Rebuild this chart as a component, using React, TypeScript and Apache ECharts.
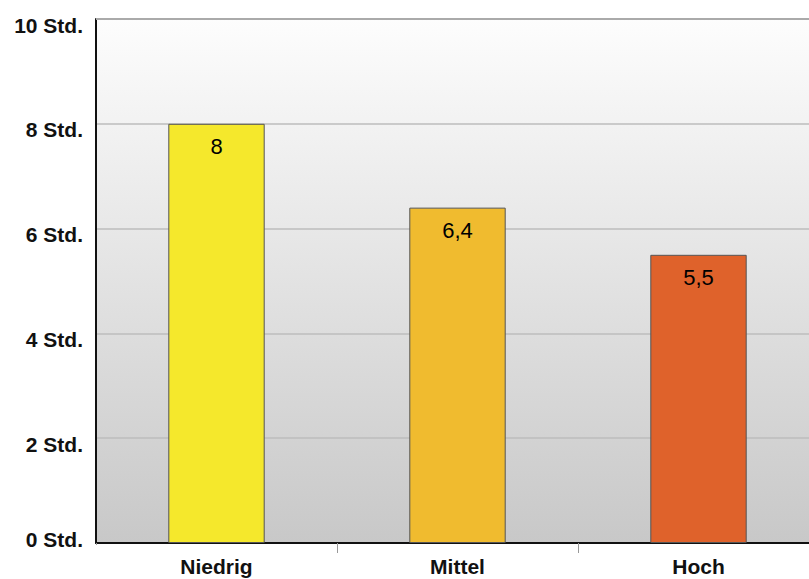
import React, { useEffect, useRef } from "react";
import * as echarts from "echarts";

const categories = ["Niedrig", "Mittel", "Hoch"];
const values = [8, 6.4, 5.5];
const barColors = ["#f5e82c", "#f0bb2f", "#df622b"];

export default function App() {
  const ref = useRef<HTMLDivElement>(null);
  useEffect(() => {
    document.body.style.margin = "0";
    document.body.style.overflow = "hidden";
    const chart = echarts.init(ref.current!, null, { renderer: "svg" });
    const font = "Liberation Sans, Arial, sans-serif";
    chart.setOption({
      animation: false,
      backgroundColor: "#ffffff",
      grid: {
        left: 96,
        right: 11,
        top: 19,
        bottom: 36,
        show: true,
        borderWidth: 0,
        backgroundColor: new echarts.graphic.LinearGradient(0, 0, 0, 1, [
          { offset: 0, color: "#fdfdfd" },
          { offset: 1, color: "#c8c8c8" },
        ]),
      },
      graphic: [
        {
          type: "rect",
          z: 100,
          shape: { x: 93, y: 545, width: 6, height: 14 },
          style: { fill: "#ffffff" },
        },
        {
          type: "line",
          z: 99,
          shape: { x1: 96, y1: 19, x2: 830, y2: 19 },
          style: { stroke: "#aaaaaa", lineWidth: 2 },
        },
      ],
      xAxis: {
        type: "category",
        data: categories,
        axisLine: { show: true, lineStyle: { color: "#111", width: 2 } },
        axisTick: { show: true, length: 10, lineStyle: { color: "#999", width: 1 } },
        axisLabel: {
          color: "#111",
          fontFamily: font,
          fontWeight: "bold",
          fontSize: 21,
          margin: 13,
        },
      },
      yAxis: {
        type: "value",
        min: 0,
        max: 10,
        interval: 2,
        axisLine: { show: true, lineStyle: { color: "#111", width: 2 } },
        axisTick: { show: false },
        splitLine: { show: true, lineStyle: { color: "#bdbdbd", width: 1.5 } },
        axisLabel: {
          margin: 13,
          formatter: (v: number) =>
            v === 0 ? `{z|${v} Std.}` : `{n|${v} Std.}`,
          rich: {
            n: {
              color: "#111",
              fontFamily: font,
              fontWeight: "bold",
              fontSize: 21,
              padding: [12, 0, 0, 0],
            },
            z: {
              color: "#111",
              fontFamily: font,
              fontWeight: "bold",
              fontSize: 21,
              padding: [0, 0, 8, 0],
            },
          },
        },
      },
      series: [
        {
          type: "bar",
          barWidth: "40%",
          data: values.map((v, i) => ({
            value: v,
            itemStyle: { color: barColors[i] },
          })),
          itemStyle: { borderColor: "#555", borderWidth: 1 },
          label: {
            show: true,
            position: "insideTop",
            distance: 12,
            color: "#000",
            fontFamily: font,
            fontSize: 22,
            fontWeight: 500,
            formatter: (p: any) => String(p.value).replace(".", ","),
          },
        },
      ],
    });
    return () => chart.dispose();
  }, []);
  return (
    <div style={{ width: 809, height: 579, overflow: "hidden", position: "relative" }}>
      <div ref={ref} style={{ width: 830, height: 579, position: "absolute", left: 0, top: 0 }} />
    </div>
  );
}
